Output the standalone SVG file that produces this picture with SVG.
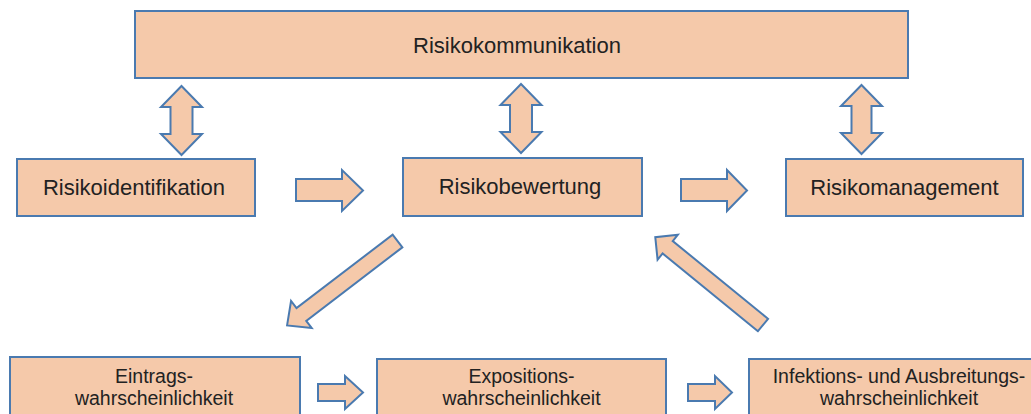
<svg xmlns="http://www.w3.org/2000/svg" width="1031" height="414" viewBox="0 0 1031 414">
  <style>
    .box { fill: #F5C9AA; stroke: #4A7AB0; stroke-width: 2; }
    .arr { fill: #F5C9AA; stroke: #4A7AB0; stroke-width: 2; stroke-linejoin: miter; }
    .lbl { font-family: "Liberation Sans", Arial, sans-serif; font-size: 22px; fill: #222222; text-anchor: middle; }
    .sm { font-family: "Liberation Sans", Arial, sans-serif; font-size: 19.5px; fill: #222222; text-anchor: middle; }
  </style>
  <rect width="1031" height="414" fill="#FFFFFF"/>

  <g id="risikokommunikation">
    <rect class="box" x="135" y="11" width="773" height="67"/>
    <text class="lbl" x="517" y="53">Risikokommunikation</text>
  </g>
  <g id="risikoidentifikation">
    <rect class="box" x="17" y="159" width="238" height="57"/>
    <text class="lbl" x="134" y="195">Risikoidentifikation</text>
  </g>
  <g id="risikobewertung">
    <rect class="box" x="403" y="158" width="239" height="58"/>
    <text class="lbl" x="520" y="194">Risikobewertung</text>
  </g>
  <g id="risikomanagement">
    <rect class="box" x="786" y="159" width="237" height="57"/>
    <text class="lbl" x="904.5" y="195">Risikomanagement</text>
  </g>
  <g id="eintrag">
    <rect class="box" x="10" y="357" width="290" height="80"/>
    <text class="sm" x="154" y="383">Eintrags-</text>
    <text class="sm" x="154" y="405">wahrscheinlichkeit</text>
  </g>
  <g id="exposition">
    <rect class="box" x="377" y="359" width="289" height="80"/>
    <text class="sm" x="521.5" y="383">Expositions-</text>
    <text class="sm" x="521.5" y="405">wahrscheinlichkeit</text>
  </g>
  <g id="infektion">
    <rect class="box" x="749" y="359" width="300" height="80"/>
    <text class="sm" x="899" y="383">Infektions- und Ausbreitungs-</text>
    <text class="sm" x="899" y="405">wahrscheinlichkeit</text>
  </g>

  <g id="connectors">
    <polygon class="arr" points="181.5,86 202,107 192.5,107 192.5,134 202,134 181.5,155 161,134 170.5,134 170.5,107 161,107"/>
    <polygon class="arr" points="521,84 541.5,105 532,105 532,132 541.5,132 521,153 500.5,132 510,132 510,105 500.5,105"/>
    <polygon class="arr" points="861.5,85 882,106 871.5,106 871.5,133 882,133 861.5,154 841,133 851.5,133 851.5,106 841,106"/>
    <polygon class="arr" points="296,179 342,179 342,170 363,190.5 342,211 342,201 296,201"/>
    <polygon class="arr" points="681,179 727,179 727,170 747,190.5 727,211 727,201 681,201"/>
    <polygon class="arr" points="318,384 345,384 345,376 363,392.5 345,409 345,401 318,401"/>
    <polygon class="arr" points="688,384 715,384 715,376 732,392.5 715,409 715,401 688,401"/>
    <polygon class="arr" transform="translate(397.5,241) rotate(142.6)" points="0,-8 121,-8 121,-17 139,0 121,17 121,8 0,8"/>
    <polygon class="arr" transform="translate(763,325) rotate(219.2)" points="0,-8 123,-8 123,-16 139,0 123,16 123,8 0,8"/>
  </g>
</svg>
